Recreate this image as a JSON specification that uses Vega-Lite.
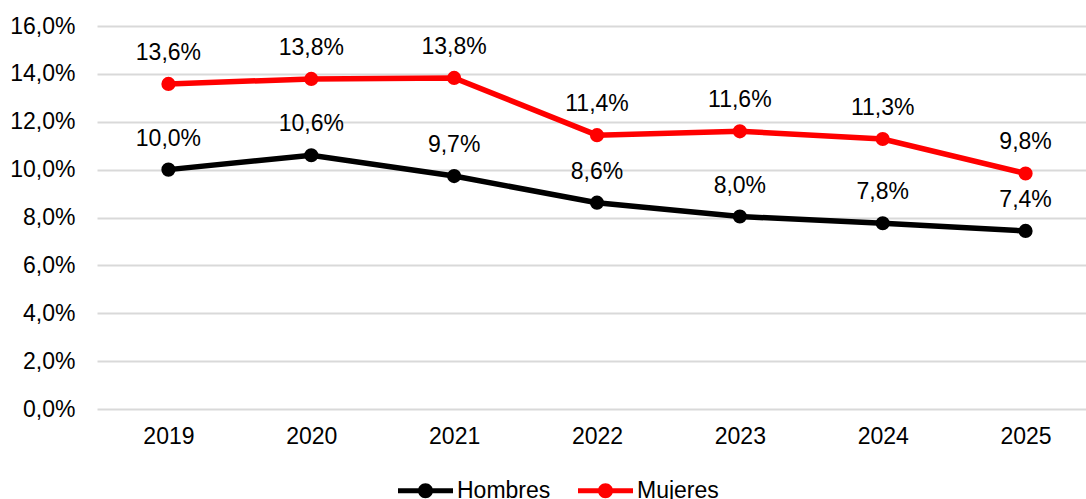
{
  "$schema": "https://vega.github.io/schema/vega-lite/v6.json",
  "width": 1000,
  "height": 383,
  "autosize": "none",
  "padding": {"left": 97, "top": 26, "right": 0, "bottom": 90},
  "background": "white",
  "data": {"values": [
    {"year": "2019", "sexo": "Hombres", "valor": 0.1000},
    {"year": "2020", "sexo": "Hombres", "valor": 0.1060},
    {"year": "2021", "sexo": "Hombres", "valor": 0.0973},
    {"year": "2022", "sexo": "Hombres", "valor": 0.0862},
    {"year": "2023", "sexo": "Hombres", "valor": 0.0804},
    {"year": "2024", "sexo": "Hombres", "valor": 0.0776},
    {"year": "2025", "sexo": "Hombres", "valor": 0.0744},
    {"year": "2019", "sexo": "Mujeres", "valor": 0.1358},
    {"year": "2020", "sexo": "Mujeres", "valor": 0.1379},
    {"year": "2021", "sexo": "Mujeres", "valor": 0.1383},
    {"year": "2022", "sexo": "Mujeres", "valor": 0.1144},
    {"year": "2023", "sexo": "Mujeres", "valor": 0.1160},
    {"year": "2024", "sexo": "Mujeres", "valor": 0.1128},
    {"year": "2025", "sexo": "Mujeres", "valor": 0.0984}
  ]},
  "encoding": {
    "x": {"field": "year", "type": "ordinal", "scale": {"type": "point", "padding": 0.5},
      "axis": {"title": null, "labelAngle": 0, "domain": false, "ticks": false, "grid": false, "labelPadding": 16, "labelFontSize": 23, "labelColor": "#000000", "labelFont": "Liberation Sans"}},
    "y": {"field": "valor", "type": "quantitative", "scale": {"domain": [0, 0.16], "nice": false},
      "axis": {"title": null, "values": [0, 0.02, 0.04, 0.06, 0.08, 0.1, 0.12, 0.14, 0.16], "format": ".1%", "domain": false, "ticks": false, "grid": true, "gridColor": "#d9d9d9", "gridWidth": 2, "labelPadding": 22, "labelFontSize": 23, "labelColor": "#000000", "labelFont": "Liberation Sans"}},
    "color": {"field": "sexo", "type": "nominal",
      "scale": {"domain": ["Hombres", "Mujeres"], "range": ["#000000", "#ff0000"]},
      "legend": {"title": null, "orient": "none", "direction": "horizontal", "legendX": 317, "legendY": 453, "padding": 0,
        "symbolType": "M -2.75 -0.25 L 2.75 -0.25 L 2.75 0.25 L -2.75 0.25 Z M 0.75 0 A 0.75 0.75 0 1 1 -0.75 0 A 0.75 0.75 0 1 1 0.75 0 Z",
        "symbolSize": 400, "labelOffset": 20, "columnPadding": 27, "labelFontSize": 23, "labelFont": "Liberation Sans", "labelColor": "#000000",
        "encode": {"symbols": {"update": {"fill": {"scale": "color", "field": "value"}, "stroke": {"value": "transparent"}, "strokeWidth": {"value": 0}, "opacity": {"value": 1}}}}}}
  },
  "layer": [
    {"mark": {"type": "line", "strokeWidth": 5.5}},
    {"mark": {"type": "point", "filled": true, "size": 200, "opacity": 1}},
    {"mark": {"type": "text", "dy": -24, "baseline": "alphabetic", "fontSize": 23, "font": "Liberation Sans", "color": "#000000"},
      "encoding": {"text": {"field": "valor", "type": "quantitative", "format": ".1%"}, "color": {"value": "#000000"}}}
  ],
  "config": {
    "view": {"stroke": null},
    "locale": {"number": {"decimal": ",", "thousands": ".", "grouping": [3], "currency": ["", " €"]}}
  }
}
